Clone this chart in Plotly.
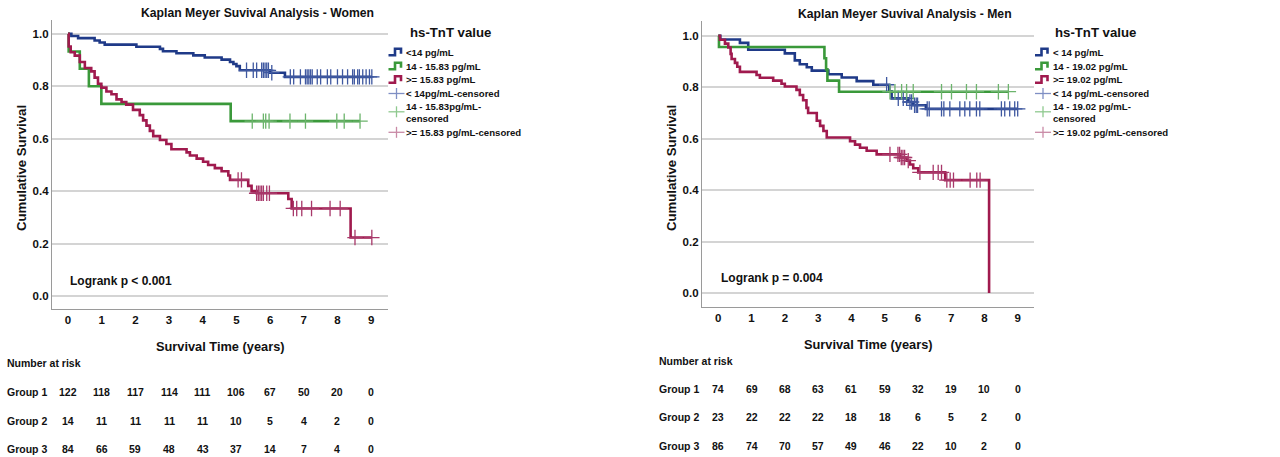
import numpy as np
import plotly.graph_objects as go

# ---------------- data ----------------
years = [0, 1, 2, 3, 4, 5, 6, 7, 8, 9]

# Women
w1_t = [0, 0.1, 0.3, 0.79, 0.94, 1.09, 2.03, 2.73, 2.82, 3.22, 3.72, 4.06, 4.56, 4.81, 4.91, 5.0, 5.1, 6.0, 6.44]
w1_s = [1.0, 0.992, 0.984, 0.975, 0.967, 0.959, 0.951, 0.943, 0.934, 0.926, 0.918, 0.910, 0.902, 0.893, 0.885, 0.877, 0.861, 0.852, 0.836]
w1_c = [5.3, 5.5, 5.6, 5.75, 5.8, 5.85, 5.9, 5.95, 6.05, 6.6, 6.7, 6.9, 7.05, 7.1, 7.15, 7.2, 7.25, 7.4, 7.5,
        7.7, 7.8, 8.0, 8.15, 8.3, 8.45, 8.5, 8.6, 8.65, 8.75, 8.85, 8.95, 9.02]

w2_t = [0, 0.02, 0.35, 0.62, 0.99, 4.83]
w2_s = [1.0, 0.933, 0.867, 0.8, 0.733, 0.667]
w2_c = [5.47, 5.8, 5.87, 5.97, 6.59, 7.05, 7.98, 8.2, 8.67]

w3_t = [0, 0.02, 0.08, 0.2, 0.35, 0.5, 0.69, 0.79, 0.89, 0.99, 1.14, 1.29, 1.44, 1.59, 1.73, 1.93, 2.13, 2.23,
        2.33, 2.43, 2.53, 2.73, 2.92, 3.07, 3.52, 3.62, 3.82, 4.01, 4.16, 4.36, 4.56, 4.76, 4.81, 5.35, 5.45,
        5.6, 6.54, 6.64, 8.39]
w3_s = [1.0, 0.952, 0.93, 0.917, 0.893, 0.87, 0.857, 0.833, 0.81, 0.795, 0.78, 0.77, 0.75, 0.74, 0.73, 0.71, 0.69,
        0.67, 0.65, 0.63, 0.61, 0.595, 0.58, 0.56, 0.548, 0.536, 0.524, 0.512, 0.50, 0.488, 0.476, 0.46, 0.443,
        0.42, 0.40, 0.392, 0.37, 0.334, 0.223]
w3_c = [5.05, 5.15, 5.6, 5.65, 5.7, 5.75, 5.8, 5.9, 5.98, 6.69, 6.79, 6.94, 7.23, 7.78, 8.08, 8.52, 9.02]

# Men
m1_t = [0, 0.06, 0.65, 0.9, 2.0, 2.3, 2.45, 2.66, 2.81, 3.31, 3.71, 4.16, 4.66, 5.14, 5.21, 5.71, 5.86, 6.24]
m1_s = [1.0, 0.986, 0.973, 0.946, 0.932, 0.905, 0.89, 0.878, 0.865, 0.851, 0.838, 0.824, 0.81, 0.784, 0.757,
        0.743, 0.730, 0.716]
m1_c = [5.06, 5.41, 5.56, 5.66, 5.76, 5.81, 5.9, 5.95, 5.99, 6.28, 6.34, 6.71, 6.78, 6.96, 7.26, 7.41, 7.56,
        7.76, 7.86, 8.51, 8.61, 8.76, 8.91, 9.0]

m2_t = [0, 0.02, 3.19, 3.24, 3.28, 3.63]
m2_s = [1.0, 0.957, 0.913, 0.87, 0.826, 0.783]
m2_c = [5.16, 5.31, 5.51, 5.66, 5.86, 6.71, 7.01, 7.46, 7.76, 8.42, 8.72]

m3_t = [0, 0.05, 0.2, 0.3, 0.37, 0.4, 0.5, 0.57, 0.65, 1.15, 1.25, 1.65, 1.9, 2.0, 2.35, 2.45, 2.55, 2.65, 2.7,
        2.96, 3.06, 3.16, 3.26, 3.96, 4.11, 4.26, 4.46, 4.76, 5.46, 5.66, 5.76, 5.86, 6.01, 6.82, 8.14]
m3_s = [1.0, 0.985, 0.97, 0.955, 0.93, 0.91, 0.895, 0.88, 0.86, 0.848, 0.837, 0.826, 0.814, 0.803, 0.79, 0.77,
        0.75, 0.72, 0.70, 0.67, 0.65, 0.63, 0.605, 0.59, 0.577, 0.565, 0.553, 0.539, 0.527, 0.515, 0.50, 0.485,
        0.469, 0.439, 0.0]
m3_c = [5.16, 5.4, 5.45, 5.5, 5.55, 5.6, 5.71, 6.06, 6.46, 6.61, 6.71, 6.87, 6.97, 7.07, 7.57, 7.77, 7.87]

# Number at risk
women_risk = {"Group 1": [122, 118, 117, 114, 111, 106, 67, 50, 20, 0],
              "Group 2": [14, 11, 11, 11, 11, 10, 5, 4, 2, 0],
              "Group 3": [84, 66, 59, 48, 43, 37, 14, 7, 4, 0]}
men_risk = {"Group 1": [74, 69, 68, 63, 61, 59, 32, 19, 10, 0],
            "Group 2": [23, 22, 22, 22, 18, 18, 6, 5, 2, 0],
            "Group 3": [86, 74, 70, 57, 49, 46, 22, 10, 2, 0]}

women_names = ["<14 pg/mL", "14 - 15.83 pg/mL", ">= 15.83 pg/mL",
               "< 14pg/mL-censored", "14 - 15.83pg/mL-<br>censored", ">= 15.83 pg/mL-censored"]
men_names = ["< 14 pg/mL", "14 - 19.02 pg/mL", ">= 19.02 pg/mL",
             "< 14 pg/mL-censored", "14 - 19.02 pg/mL-<br>censored", ">= 19.02 pg/mL-censored"]

# ---------------- styling ----------------
FONT = "Liberation Sans, Arial, sans-serif"
line_cols = ["#1f3a88", "#3a993a", "#a01a4e"]
cens_cols = ["#3f58a0", "#6cb46c", "#a8386a"]
legend_cens_cols = ["#7f8fc4", "#8fc98f", "#c98aa6"]


def step_value(t, s, x):
    t = np.asarray(t)
    s = np.asarray(s)
    idx = np.searchsorted(t, np.asarray(x), side="right") - 1
    return s[idx]


fig = go.Figure()


def add_panel(groups, names, xa, ya):
    for i, (t, s, c) in enumerate(groups):
        xs = list(t)
        ys = list(s)
        if max(c) > xs[-1]:
            xs.append(max(c))
            ys.append(ys[-1])
        fig.add_trace(go.Scatter(x=xs, y=ys, mode="lines", line=dict(shape="hv", color=line_cols[i], width=2.6),
                                 name=names[i], xaxis=xa, yaxis=ya, showlegend=False))
    for i, (t, s, c) in enumerate(groups):
        fig.add_trace(go.Scatter(x=c, y=step_value(t, s, c), mode="markers",
                                 marker=dict(symbol="cross-thin-open", size=11, color=cens_cols[i],
                                             line=dict(color=cens_cols[i], width=1.3)),
                                 name=names[3 + i].replace("<br>", ""), xaxis=xa, yaxis=ya, showlegend=False))


add_panel([(w1_t, w1_s, w1_c), (w2_t, w2_s, w2_c), (w3_t, w3_s, w3_c)], women_names, "x", "y")
add_panel([(m1_t, m1_s, m1_c), (m2_t, m2_s, m2_c), (m3_t, m3_s, m3_c)], men_names, "x2", "y2")

axis_common = dict(showline=True, linecolor="#9a9a9a", linewidth=1.2, zeroline=False, ticks="",
                   tickfont=dict(family=FONT, size=11.5, color="#111", weight="bold"))
xcommon = dict(axis_common, showgrid=False, tickvals=years)
ycommon = dict(axis_common, showgrid=True, gridcolor="#d4d4d4", gridwidth=1.5,
               tickvals=[0, 0.2, 0.4, 0.6, 0.8, 1.0], tickformat=".1f")

W, H = 1280, 457
fig.update_layout(
    width=W, height=H, autosize=False,
    margin=dict(l=0, r=0, t=0, b=0),
    paper_bgcolor="white", plot_bgcolor="white",
    font=dict(family=FONT, color="#111"),
    xaxis=dict(xcommon, domain=[52 / W, 388 / W], range=[-0.475, 9.5], anchor="y"),
    yaxis=dict(ycommon, domain=[1 - 309 / H, 1 - 20 / H], range=[-0.0496, 1.053], anchor="x"),
    xaxis2=dict(xcommon, domain=[702 / W, 1034 / W], range=[-0.49, 9.49], anchor="y2"),
    yaxis2=dict(ycommon, domain=[1 - 307 / H, 1 - 21 / H], range=[-0.0545, 1.058], anchor="x2"),
    showlegend=False,
)

ann = []
shapes = []


def txt(text, x, y, size, xref="paper", yref="paper", xanchor="center", yanchor="middle", angle=0):
    ann.append(dict(text=f"<b>{text}</b>", x=x, y=y, xref=xref, yref=yref, xanchor=xanchor, yanchor=yanchor,
                    align="left", showarrow=False, textangle=angle,
                    font=dict(family=FONT, size=size, color="#111")))


def px(x):
    return x / W


def py(y):
    return 1 - y / H


# titles
txt("Kaplan Meyer Suvival Analysis - Women", px(257), py(13), 12.2)
txt("Kaplan Meyer Suvival Analysis - Men", px(905), py(14), 12.2)
# axis titles
txt("Cumulative Survival", px(21), py(168), 13.2, angle=-90)
txt("Cumulative Survival", px(671), py(168), 13.2, angle=-90)
txt("Survival Time (years)", px(220), py(346), 12.8)
txt("Survival Time (years)", px(868), py(344), 12.8)
# logrank
txt("Logrank p < 0.001", 0, 0.057, 12, xref="x", yref="y", xanchor="left")
txt("Logrank p = 0.004", 0.03, 0.058, 12, xref="x2", yref="y2", xanchor="left")

# number at risk tables
for risk, xref, x0, rows_y, head_y in [(women_risk, "x", 5, [392, 421, 449], 363),
                                       (men_risk, "x2", 657, [389, 417, 446], 361)]:
    txt("Number at risk", px(x0), py(head_y), 10.5, xanchor="left")
    for (g, vals), yy in zip(risk.items(), rows_y):
        txt(g, px(x0), py(yy), 10.5, xanchor="left")
        for yr, v in zip(years, vals):
            txt(str(v), yr, py(yy), 10.5, xref=xref)


# legends (drawn as glyphs + text)
def add_legend(names, x_icon, x_text, title_x):
    txt("hs-TnT value", px(title_x), py(32.5), 13.2)
    rows = [52.3, 66.2, 79.8, 93.5, 112.8, 132.3]
    for k, (name, yy) in enumerate(zip(names, rows)):
        if k < 3:
            col = line_cols[k]
            path = (f"M {px(x_icon)},{py(yy + 3)} L {px(x_icon + 6.5)},{py(yy + 3)} "
                    f"L {px(x_icon + 6.5)},{py(yy - 3.5)} L {px(x_icon + 12.5)},{py(yy - 3.5)} "
                    f"L {px(x_icon + 12.5)},{py(yy + 1.5)}")
            shapes.append(dict(type="path", path=path, xref="paper", yref="paper",
                               line=dict(color=col, width=2.6)))
        else:
            col = legend_cens_cols[k - 3]
            iy = yy - 1 if k == 4 else yy
            shapes.append(dict(type="line", x0=px(x_icon), x1=px(x_icon + 16), y0=py(iy), y1=py(iy),
                               xref="paper", yref="paper", line=dict(color=col, width=1.3)))
            shapes.append(dict(type="line", x0=px(x_icon + 8), x1=px(x_icon + 8), y0=py(iy - 5.5),
                               y1=py(iy + 5.5), xref="paper", yref="paper", line=dict(color=col, width=1.3)))
        txt(name, px(x_text), py(yy), 9.6, xanchor="left")


add_legend(women_names, 388.5, 404, 450)
add_legend(men_names, 1035, 1050.5, 1095)

fig.update_layout(annotations=ann, shapes=shapes)

fig.write_html("out.html", config={"displayModeBar": False},
               post_script="document.body.style.margin='0';document.body.style.overflow='hidden';")
